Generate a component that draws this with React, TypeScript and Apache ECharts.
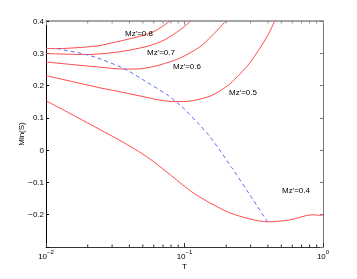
import React, { useEffect, useRef } from 'react';
import * as echarts from 'echarts';

// Curves Min(S) vs T for several Mz' values
const mz08T = [0.01, 0.012, 0.0176, 0.0245, 0.029, 0.0404, 0.0562, 0.0664, 0.0784];
const mz08S = [0.315, 0.3145, 0.318, 0.324, 0.331, 0.345, 0.362, 0.378, 0.4];

const mz07T = [0.01, 0.0149, 0.0191, 0.029, 0.0404, 0.0562, 0.0721, 0.0925, 0.1112];
const mz07S = [0.299, 0.297, 0.296, 0.301, 0.31, 0.324, 0.342, 0.372, 0.4];

const mz06T = [0.01, 0.0245, 0.0372, 0.0501, 0.0664, 0.0925, 0.129, 0.16, 0.1987];
const mz06S = [0.273, 0.257, 0.251, 0.253, 0.264, 0.285, 0.32, 0.357, 0.4];

const mz05T = [0.01, 0.0245, 0.029, 0.0501, 0.0664, 0.0867, 0.1094, 0.129, 0.1524, 0.1797, 0.2123, 0.2505, 0.2958, 0.3492, 0.3988, 0.4483];
const mz05S = [0.231, 0.193, 0.187, 0.166, 0.155, 0.15, 0.152, 0.158, 0.167, 0.183, 0.205, 0.235, 0.27, 0.315, 0.355, 0.4];

const mz04T = [0.01, 0.0164, 0.0245, 0.0342, 0.0438, 0.0562, 0.0746, 0.0973, 0.1182, 0.1524, 0.2123, 0.2958, 0.3988, 0.5755, 0.8434, 0.9462, 1.0];
const mz04S = [0.153, 0.104, 0.064, 0.03, 0.003, -0.027, -0.068, -0.108, -0.135, -0.163, -0.194, -0.213, -0.222, -0.216, -0.2, -0.202, -0.201];

// Locus of minima (dashed)
const minT = [0.012, 0.0191, 0.0245, 0.0372, 0.0501, 0.0746, 0.0867, 0.1006, 0.1248, 0.1524, 0.2193, 0.2958, 0.3988];
const minS = [0.3145, 0.297, 0.283, 0.251, 0.218, 0.172, 0.15, 0.126, 0.084, 0.042, -0.054, -0.138, -0.223];

const minorTicks = [0.02, 0.03, 0.04, 0.05, 0.06, 0.07, 0.08, 0.09, 0.2, 0.3, 0.4, 0.5, 0.6, 0.7, 0.8, 0.9];

const labels = ["Mz'=0.8", "Mz'=0.7", "Mz'=0.6", "Mz'=0.5", "Mz'=0.4"];

const pairs = (t: number[], s: number[]) => t.map((v, i) => [v, s[i]]);

export default function App() {
  const ref = useRef<HTMLDivElement>(null);
  useEffect(() => {
    if (!ref.current) return;
    const chart = echarts.init(ref.current, null, { renderer: 'svg' });
    const font = '"Liberation Sans", Arial, Helvetica, sans-serif';
    const red = '#ff4a4a';
    const lineSeries = (name: string, t: number[], s: number[]) => ({
      type: 'line',
      name,
      data: pairs(t, s),
      showSymbol: false,
      symbol: 'none',
      smooth: 0.3,
      lineStyle: { color: red, width: 1 },
      itemStyle: { color: red },
      silent: true,
      z: 3,
    });
    const labelPos = [
      [125, 33],
      [147, 52],
      [173, 66],
      [229, 92],
      [282, 190],
    ];
    chart.setOption({
      animation: false,
      grid: { left: 46, top: 21, width: 277, height: 226, containLabel: false },
      xAxis: [
        {
          type: 'log',
          logBase: 10,
          min: 0.01,
          max: 1,
          position: 'bottom',
          axisLine: { show: true, onZero: false, lineStyle: { color: '#333', width: 1 } },
          axisTick: { show: true, inside: true, length: 4, lineStyle: { color: '#333' } },
          splitLine: { show: false },
          axisLabel: {
            margin: 2,
            formatter: (v: number) => {
              const e = Math.round(Math.log10(v));
              return `{b|10}{s|${e < 0 ? '\u2212' + -e : e}}`;
            },
            rich: {
              b: { fontSize: 8, fontFamily: font, color: '#000' },
              s: { fontSize: 6, fontFamily: font, color: '#000', padding: [0, 0, 8, 0] },
            },
          },
          name: 'T',
          nameLocation: 'middle',
          nameGap: 15,
          nameMoveOverlap: false,
          nameTextStyle: { fontSize: 8, fontFamily: font, color: '#000' },
        },
        {
          type: 'log',
          logBase: 10,
          min: 0.01,
          max: 1,
          position: 'top',
          axisLine: { show: true, onZero: false, lineStyle: { color: '#888', width: 1.5 } },
          axisTick: { show: true, inside: true, length: 4, lineStyle: { color: '#888' } },
          axisLabel: { show: false },
          splitLine: { show: false },
        },
      ],
      yAxis: [
        {
          type: 'value',
          min: -0.3,
          max: 0.4,
          interval: 0.1,
          position: 'left',
          axisLine: { show: true, onZero: false, lineStyle: { color: '#000', width: 1 } },
          axisTick: { show: true, inside: true, length: 3, lineStyle: { color: '#000' } },
          splitLine: { show: false },
          axisLabel: {
            margin: 2,
            fontSize: 8,
            fontFamily: font,
            color: '#000',
            formatter: (v: number) => {
              const r = Math.round(v * 10) / 10;
              if (r === -0.3) return '';
              return r < 0 ? '\u2212' + Math.abs(r) : String(r);
            },
          },
          name: 'Min(S)',
          nameLocation: 'middle',
          nameRotate: 90,
          nameGap: 21,
          nameMoveOverlap: false,
          nameTextStyle: { fontSize: 8, fontFamily: font, color: '#000' },
        },
        {
          type: 'value',
          min: -0.3,
          max: 0.4,
          interval: 0.1,
          position: 'right',
          axisLine: { show: true, onZero: false, lineStyle: { color: '#777', width: 1 } },
          axisTick: { show: true, inside: true, length: 3, lineStyle: { color: '#777' } },
          axisLabel: { show: false },
          splitLine: { show: false },
        },
      ],
      series: [
        lineSeries('0.8', mz08T, mz08S),
        lineSeries('0.7', mz07T, mz07S),
        lineSeries('0.6', mz06T, mz06S),
        lineSeries('0.5', mz05T, mz05S),
        lineSeries('0.4', mz04T, mz04S),
        {
          type: 'line',
          name: 'minima',
          data: pairs(minT, minS),
          showSymbol: false,
          symbol: 'none',
          smooth: 0.3,
          lineStyle: { color: '#5a6cff', width: 1, type: [4, 3] },
          silent: true,
          z: 4,
        },
        {
          type: 'custom',
          name: 'minorTicks',
          data: minorTicks.map((v) => [v, 0]),
          silent: true,
          z: 5,
          renderItem: (params: any, api: any) => {
            const cs = params.coordSys;
            const x = api.coord([api.value(0), 0])[0];
            return {
              type: 'group',
              children: [
                {
                  type: 'line',
                  shape: { x1: x, y1: cs.y + cs.height, x2: x, y2: cs.y + cs.height - 2.5 },
                  style: { stroke: '#333', lineWidth: 1 },
                },
                {
                  type: 'line',
                  shape: { x1: x, y1: cs.y, x2: x, y2: cs.y + 2.5 },
                  style: { stroke: '#888', lineWidth: 1 },
                },
              ],
            };
          },
        },
      ],
      graphic: labels.map((t, i) => ({
        type: 'text',
        x: labelPos[i][0],
        y: labelPos[i][1],
        style: { text: t, fontSize: 8, fontFamily: font, fill: '#000', verticalAlign: 'middle' },
        z: 10,
      })),
    });
    return () => chart.dispose();
  }, []);
  return <div ref={ref} style={{ position: 'fixed', left: 0, top: 0, width: 357, height: 279 }} />;
}
